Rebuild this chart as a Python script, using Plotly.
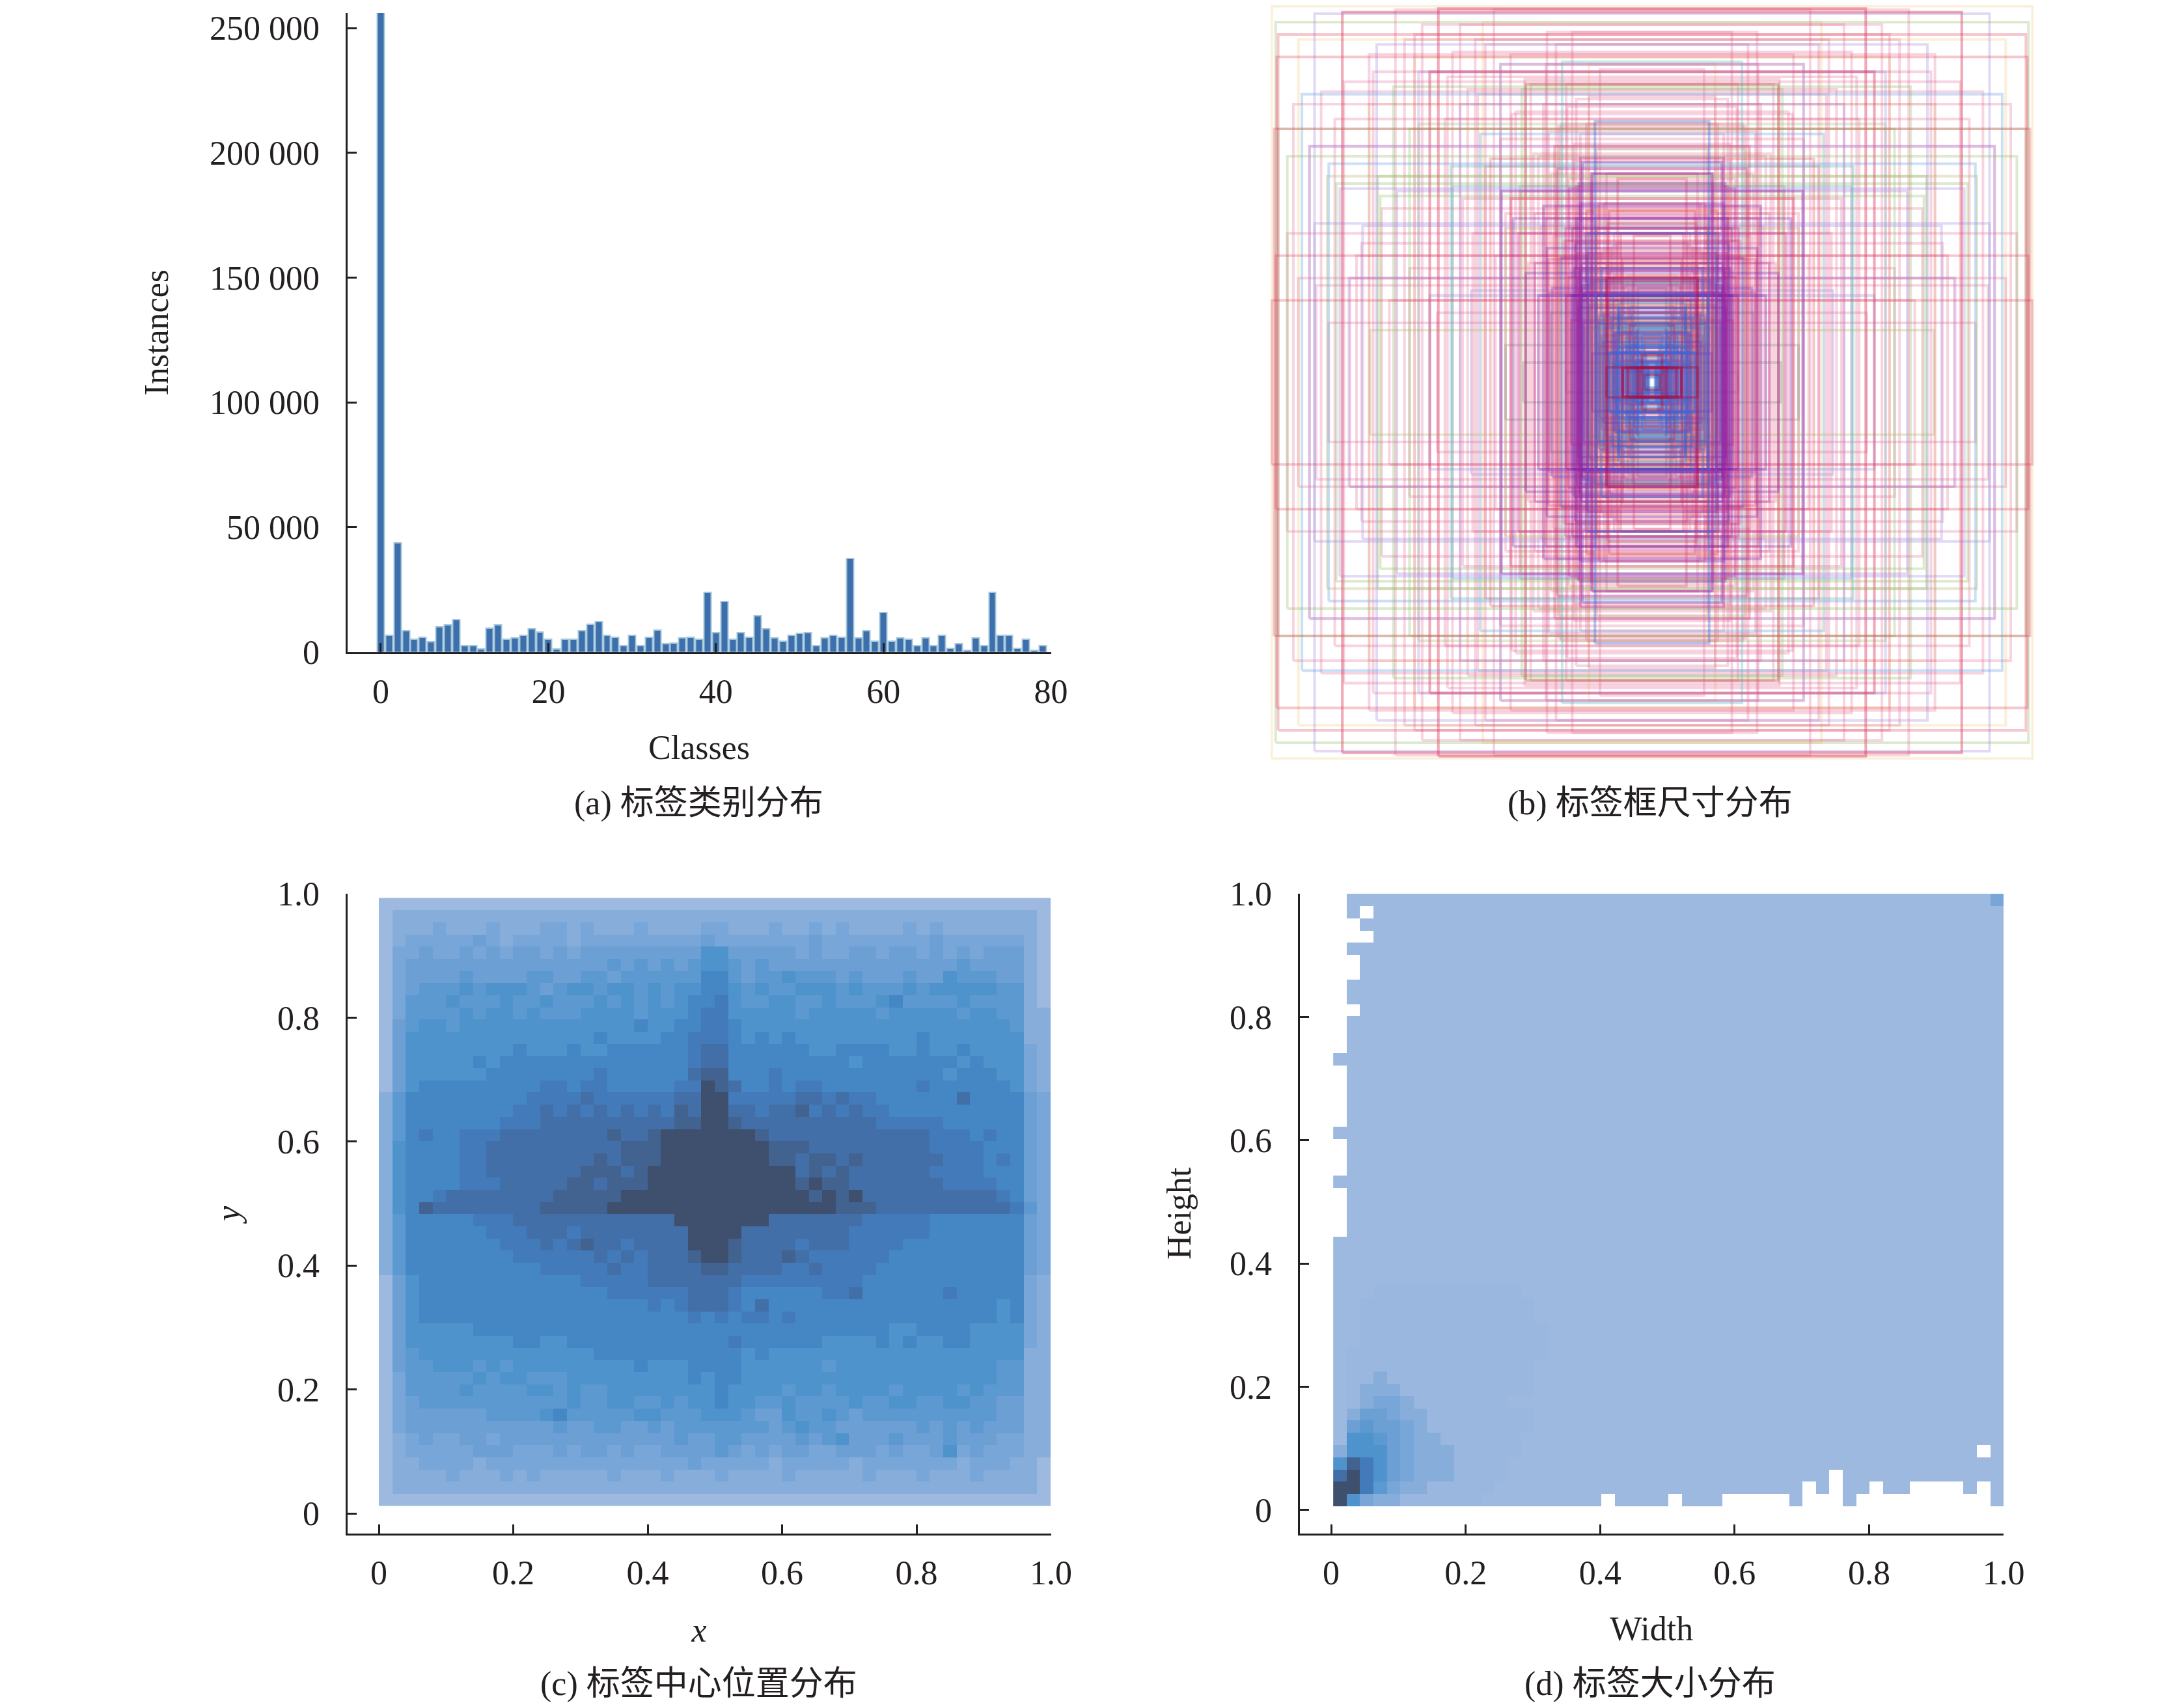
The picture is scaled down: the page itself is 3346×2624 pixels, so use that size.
import plotly.graph_objects as go

W = 3346
H = 2624

# (a) instances per class
class_ids = list(range(80))
class_counts = [258000, 6760, 43600, 8500, 5030, 5900, 4160, 10000, 10800, 12800,
                2400, 2400, 1200, 9500, 10700, 5000, 5700, 6700, 9200, 8000,
                5200, 1100, 5200, 5200, 8500, 11100, 12000, 6700, 5900, 2600,
                6700, 2600, 5900, 8700, 3300, 3500, 5700, 5900, 5000, 23900,
                7600, 20200, 5000, 7600, 5900, 14400, 9200, 5700, 4300, 6600,
                7500, 7600, 2600, 5700, 6700, 5900, 37500, 5700, 8500, 4200,
                15800, 4200, 5700, 5000, 2400, 5700, 2600, 6600, 1500, 3300,
                700, 5700, 2600, 23900, 6700, 6700, 1500, 5000, 700, 2400]
class_xticks = [0, 20, 40, 60, 80]
class_yticks = [0, 50000, 100000, 150000, 200000, 250000]
class_yticktext = ["0", "50 000", "100 000", "150 000", "200 000", "250 000"]

unit_ticks = [0, 0.2, 0.4, 0.6, 0.8, 1.0]
unit_ticktext = ["0", "0.2", "0.4", "0.6", "0.8", "1.0"]

# (b) half width / half height of the boxes, one pair of lists per colour
pink_w = [423, 313, 508, 613, 628, 552, 678, 598, 722, 278, 208, 158, 103, 350, 440, 395, 300, 252, 215, 180, 155, 140, 120, 95, 75, 60,
          470, 380, 330, 280, 240, 210, 190, 170, 150, 130, 110, 90, 205, 225, 165, 118, 88, 70, 262, 345, 405, 232, 196,
          135, 160, 245, 310, 128, 175, 355, 220, 146, 290, 190, 375, 260, 120, 200, 330, 155, 235, 300, 142, 185, 410, 270, 168, 125, 365,
          520, 585, 640, 700, 455, 490, 560, 610, 655, 710, 425, 535, 575, 480, 665]
pink_h = [752, 750, 750, 745, 530, 625, 475, 210, 300, 540, 705, 705, 630, 690, 625, 665, 640, 610, 560, 520, 480, 430, 400, 360, 300, 250,
          700, 720, 680, 660, 600, 640, 680, 600, 570, 520, 470, 420, 505, 455, 410, 350, 330, 280, 395, 580, 615, 340, 295,
          205, 225, 240, 255, 270, 285, 300, 315, 325, 340, 355, 370, 385, 405, 420, 435, 445, 460, 490, 500, 515, 530, 545, 555, 575, 590,
          165, 255, 120, 210, 720, 690, 660, 605, 585, 560, 140, 350, 280, 230, 195]
red_w = [743, 753, 745, 748, 740, 613, 440, 423, 193, 90, 58, 250, 320, 280, 150, 130, 110, 75, 48, 40, 100, 170, 210, 125, 70, 85, 115, 62, 145, 95, 160, 185, 52,
         59, 26, 59, 70, 40, 50, 30, 22, 65, 82, 34, 100, 75, 112, 92, 18, 44, 128, 166, 205,
         88, 105, 68, 36, 55, 80, 120, 140]
red_h = [655, 165, 255, 510, 700, 745, 625, 752, 475, 235, 245, 600, 450, 370, 395, 345, 310, 215, 185, 140, 265, 285, 330, 155, 120, 345, 205, 300, 230, 170, 125, 250, 90,
         103, 26, 100, 88, 60, 45, 80, 65, 140, 130, 120, 95, 165, 150, 115, 42, 152, 178, 212, 248,
         320, 360, 410, 295, 195, 275, 240, 190]
purple_w = [138, 298, 160, 208, 150, 140, 135, 145, 148, 198, 132, 155, 128, 152, 110, 225, 250, 180, 170, 75, 60, 35, 142, 146, 136, 154, 126, 158, 120, 105, 88, 66, 44, 215, 275,
            144, 141, 147, 143, 139, 50, 28, 96, 78, 118]
purple_h = [443, 385, 175, 270, 330, 240, 180, 400, 210, 190, 300, 175, 260, 280, 175, 175, 220, 250, 175, 100, 60, 90, 360, 150, 120, 230, 200, 310, 420, 135, 165, 145, 115, 355, 330,
            180, 205, 165, 225, 195, 70, 85, 82, 128, 58]
magenta_w = [172, 128, 96, 72, 148, 118, 204, 232, 142, 56, 30, 84, 164, 188, 265, 112, 38, 62, 16, 104, 24, 46, 8]
magenta_h = [310, 182, 140, 96, 260, 420, 180, 240, 452, 62, 44, 225, 390, 430, 300, 335, 55, 42, 78, 72, 16, 22, 26]
blue_w = [113, 110, 48, 40, 35, 60, 90, 78, 100, 70, 30, 20, 52, 84, 126, 38, 66,
          20, 25, 18, 69, 72, 66, 105, 95, 85, 58, 44, 33, 28, 14, 12, 10, 9, 54, 77, 6, 16]
blue_h = [525, 175, 95, 75, 40, 140, 110, 180, 230, 70, 105, 20, 130, 60, 300, 120, 160,
          95, 70, 50, 60, 100, 150, 118, 130, 60, 75, 85, 40, 110, 35, 60, 18, 42, 22, 36, 28, 10]
green_w = [745, 740, 722, 512, 543, 538, 258, 78, 95, 70, 100, 120, 60, 85, 55, 45, 130, 625, 480, 40, 75, 112,
           110, 45, 105, 60, 80, 92, 35, 16, 68, 122, 24, 102, 12, 30, 9]
green_h = [725, 510, 455, 595, 415, 375, 590, 100, 140, 170, 90, 130, 80, 200, 55, 115, 110, 400, 510, 60, 45, 240,
           118, 90, 125, 100, 115, 70, 75, 30, 32, 158, 52, 205, 20, 14, 12]
teal_w = [178, 398, 395, 88, 60, 25, 110, 135, 70, 50, 36, 69, 74, 14, 7]
teal_h = [645, 435, 395, 150, 170, 60, 80, 200, 105, 115, 80, 150, 34, 88, 40]
lblue_w = [693, 640, 340]
lblue_h = [580, 440, 500]
olive_w = [643, 558, 250, 110, 290, 462, 185]
olive_h = [415, 105, 600, 320, 310, 520, 470]
yellow_w = [753, 700, 560, 150, 125, 48, 32, 335, 470]
yellow_h = [757, 690, 560, 345, 640, 215, 160, 725, 655]
lavender_w = [668, 668, 462, 358, 678, 300, 440, 573, 618, 600, 505, 380, 545]
lavender_h = [742, 320, 625, 185, 475, 640, 175, 315, 390, 210, 385, 560, 680]
gray_w = [290, 255, 200, 170, 38, 42, 28]
gray_h = [75, 40, 140, 20, 205, 175, 190]
dark_w = [58, 25, 48, 90, 30, 20, 15, 90, 58]
dark_h = [30, 30, 30, 30, 30, 55, 15, 210, 28]

box_groups = [
    ("rgba(236,200,120,0.28)", yellow_w, yellow_h),
    ("rgba(225,85,130,0.25)", pink_w, pink_h),
    ("rgba(140,190,95,0.30)", green_w, green_h),
    ("rgba(175,180,105,0.30)", olive_w, olive_h),
    ("rgba(110,165,225,0.35)", lblue_w, lblue_h),
    ("rgba(90,190,190,0.35)", teal_w, teal_h),
    ("rgba(165,140,220,0.32)", lavender_w, lavender_h),
    ("rgba(150,150,150,0.35)", gray_w, gray_h),
    ("rgba(222,55,80,0.28)", red_w, red_h),
    ("rgba(120,35,175,0.32)", purple_w, purple_h),
    ("rgba(190,45,150,0.32)", magenta_w, magenta_h),
    ("rgba(55,105,215,0.38)", blue_w, blue_h),
    ("rgba(165,15,75,0.42)", dark_w, dark_h),
]

# shade codes, top row first; "." is an empty cell
SHADES = "0-123456789a"
SHADE_COLOURS = ["#9db9e0", "#9ab7df", "#87aedb", "#79a6d8", "#6ca0d5", "#5d99d1",
                 "#4f93cc", "#4586c5", "#437bba", "#436fa8", "#426290", "#3f4f6e"]

center_rows = [
    "00000 00000 00000 00000 00000 00000 00000 00000 00000 00000",
    "01111 11111 11111 11111 11111 11111 11111 11111 11111 11110",
    "01112 11121 11221 21112 11112 21112 11212 11112 12111 11110",
    "01222 22321 22221 22222 22223 22222 22322 22222 23222 22210",
    "02232 23232 33232 33333 33335 53333 32322 33233 23232 33310",
    "02333 33333 33333 33434 34345 54343 33333 33333 33343 33310",
    "02333 34333 34433 44344 44446 64344 54443 43334 33544 43310",
    "02344 45455 54345 54554 54556 65454 45554 54445 45555 54410",
    "02444 54445 44544 45454 54566 75445 54454 44564 44454 44410",
    "02444 45455 45444 55554 55567 75555 54555 55455 55545 54411",
    "03455 45555 55555 55556 55667 76555 55555 55555 55555 55411",
    "03555 55555 55555 56555 56677 76565 65555 55555 65555 55511",
    "03555 55555 65556 55666 66678 86666 66556 66655 65565 55521",
    "03555 55656 66666 66666 66678 86666 66666 56666 66656 55521",
    "03555 55566 66666 67666 66689 96667 66666 66666 66566 65521",
    "03566 66666 66776 77666 6677a 98667 67766 66666 76666 66521",
    "14666 66666 67777 87777 7788a a7777 78878 77666 66686 66632",
    "14666 66666 77878 78787 8798a a8878 89787 87766 66666 66632",
    "14666 66667 77888 88888 8899a a9888 88888 88777 77666 66632",
    "14676 67778 88888 88988 9aaaa aaa98 88888 88888 87776 76632",
    "15666 67788 88888 88899 9aaaa aaaa9 99888 88888 87777 66632",
    "15666 67788 88888 89899 9aaaa aaaa9 98998 98888 88777 67632",
    "15666 67788 88888 99989 aaaaa aaaaa a8989 88888 87777 66632",
    "15666 67778 88889 98999 aaaaa aaaaa a9a99 88888 88777 76632",
    "15667 88888 88899 999aa aaaaa aaaaa aa9a9 a8888 88888 87632",
    "15698 88888 88999 99aaa aaaaa aaaaa aaaa9 99888 88888 88742",
    "14666 66777 88888 88888 88aaa aaaa8 88888 87777 76666 66632",
    "14666 66677 78887 88888 888aa aa888 88888 77777 76666 66632",
    "14666 66667 77878 98878 888aa a9888 87888 77776 66666 66632",
    "14666 66666 77777 78787 8889a a9888 98777 77766 66666 66632",
    "14666 66666 66777 77877 88889 98888 77877 77666 66666 66632",
    "03566 66666 66666 77777 88888 88777 77777 76666 66666 66621",
    "03566 66666 66666 66777 77788 87666 66677 86666 66766 66621",
    "03566 66666 66666 66666 76788 87686 66666 66666 66666 65621",
    "03566 66666 66666 66666 66676 76776 76666 66666 66666 65621",
    "03555 55666 66666 66666 66666 66666 66666 66655 66665 55521",
    "03555 55555 66556 66666 66666 67666 66655 55656 55665 55521",
    "03455 55555 55555 56666 66666 66565 55555 55555 55555 55511",
    "03445 55454 55555 55556 55566 66555 55545 55555 55555 54411",
    "02444 44545 54445 55555 55565 66555 55555 55555 55555 54411",
    "02444 45444 45545 44555 55555 65555 45545 55545 55545 44411",
    "02344 44444 44445 44554 45455 65544 54444 54455 44554 43311",
    "02333 33344 44564 44445 54445 55433 54454 34444 44444 43311",
    "02333 33333 33343 34433 43444 44443 45443 33333 43434 33311",
    "01232 23323 33333 33333 33433 44333 34345 33343 33433 32211",
    "01222 22333 22232 33232 23333 43232 33223 33232 23523 22211",
    "01122 22122 22222 22222 22232 22221 22222 12222 22212 22110",
    "01111 21112 12111 11211 12111 21111 21111 12111 21112 11110",
    "01111 11111 11111 11111 11111 11111 11111 11111 11111 11110",
    "00000 00000 00000 00000 00000 00000 00000 00000 00000 00000",
]

size_rows = [
    ".0000 00000 00000 00000 00000 00000 00000 00000 00000 00002",
    ".0.00 00000 00000 00000 00000 00000 00000 00000 00000 00000",
    "..000 00000 00000 00000 00000 00000 00000 00000 00000 00000",
    "...00 00000 00000 00000 00000 00000 00000 00000 00000 00000",
    ".0000 00000 00000 00000 00000 00000 00000 00000 00000 00000",
    "..000 00000 00000 00000 00000 00000 00000 00000 00000 00000",
    "..000 00000 00000 00000 00000 00000 00000 00000 00000 00000",
    ".0000 00000 00000 00000 00000 00000 00000 00000 00000 00000",
    ".0000 00000 00000 00000 00000 00000 00000 00000 00000 00000",
    "..000 00000 00000 00000 00000 00000 00000 00000 00000 00000",
    ".0000 00000 00000 00000 00000 00000 00000 00000 00000 00000",
    ".0000 00000 00000 00000 00000 00000 00000 00000 00000 00000",
    ".0000 00000 00000 00000 00000 00000 00000 00000 00000 00000",
    "00000 00000 00000 00000 00000 00000 00000 00000 00000 00000",
    ".0000 00000 00000 00000 00000 00000 00000 00000 00000 00000",
    ".0000 00000 00000 00000 00000 00000 00000 00000 00000 00000",
    ".0000 00000 00000 00000 00000 00000 00000 00000 00000 00000",
    ".0000 00000 00000 00000 00000 00000 00000 00000 00000 00000",
    ".0000 00000 00000 00000 00000 00000 00000 00000 00000 00000",
    "00000 00000 00000 00000 00000 00000 00000 00000 00000 00000",
    ".0000 00000 00000 00000 00000 00000 00000 00000 00000 00000",
    ".0000 00000 00000 00000 00000 00000 00000 00000 00000 00000",
    ".0000 00000 00000 00000 00000 00000 00000 00000 00000 00000",
    "00000 00000 00000 00000 00000 00000 00000 00000 00000 00000",
    ".0000 00000 00000 00000 00000 00000 00000 00000 00000 00000",
    ".0000 00000 00000 00000 00000 00000 00000 00000 00000 00000",
    ".0000 00000 00000 00000 00000 00000 00000 00000 00000 00000",
    ".0000 00000 00000 00000 00000 00000 00000 00000 00000 00000",
    "00000 00000 00000 00000 00000 00000 00000 00000 00000 00000",
    "00000 00000 00000 00000 00000 00000 00000 00000 00000 00000",
    "00000 00000 00000 00000 00000 00000 00000 00000 00000 00000",
    "00000 00000 00000 00000 00000 00000 00000 00000 00000 00000",
    "000-- ----- ----0 00000 00000 00000 00000 00000 00000 00000",
    "00--- ----- ----- 00000 00000 00000 00000 00000 00000 00000",
    "00--- ----- ----- 00000 00000 00000 00000 00000 00000 00000",
    "00--- ----- ----- -0000 00000 00000 00000 00000 00000 00000",
    "00--- ----- ----- -0000 00000 00000 00000 00000 00000 00000",
    "0---- ----- ----- -0000 00000 00000 00000 00000 00000 00000",
    "0---- ----- ----- 00000 00000 00000 00000 00000 00000 00000",
    "0--1- ----- ----- 00000 00000 00000 00000 00000 00000 00000",
    "0-111 ----- ----- 00000 00000 00000 00000 00000 00000 00000",
    "0-122 1---- ---00 00000 00000 00000 00000 00000 00000 00000",
    "01332 11--- ----- 00000 00000 00000 00000 00000 00000 00000",
    "03433 21--- ----- 00000 00000 00000 00000 00000 00000 00000",
    "05543 211-- ----0 00000 00000 00000 00000 00000 00000 00000",
    "15553 2111- ----0 00000 00000 00000 00000 00000 00000 000.0",
    "59753 2111- ---00 00000 00000 00000 00000 00000 00000 00000",
    "8a753 2111- ---00 00000 00000 00000 00000 00.00 00000 00000",
    "aa742 11--- --000 00000 00000 00000 00000 .0.00 .00.. ..0.0",
    "a5211 ----- -0000 00000 .0000 .000. ....0 ...0. ..... ....0",
]


def parse_rows(rows):
    z = []
    for row in rows[::-1]:
        cells = row.replace(" ", "")
        assert len(cells) == 50, row
        z.append([None if c == "." else SHADES.index(c) for c in cells])
    return z


def box_trace(w, h, colour):
    return go.Scatter(x=[-w, w, w, -w, -w], y=[-h, -h, h, h, -h], mode="lines",
                      line=dict(color=colour, width=4), xaxis="x2", yaxis="y2",
                      hoverinfo="skip", showlegend=False)


def dom_x(a, b):
    return [a / W, b / W]


def dom_y(top, bottom):
    return [1 - bottom / H, 1 - top / H]


def axis(domain, rng, tickvals, ticktext, title, standoff, labeloff, anchor):
    return dict(domain=domain, range=rng, tickmode="array", tickvals=tickvals,
                ticktext=ticktext, ticks="inside", ticklen=14, tickwidth=3,
                tickcolor=INK, showline=True, linewidth=3, linecolor=INK,
                showgrid=False, zeroline=False, anchor=anchor,
                ticklabelstandoff=labeloff,
                title=dict(text=title, standoff=standoff,
                           font=dict(size=FONT_SIZE, color=INK)))


INK = "#231f20"
FONT_SIZE = 52
FONT = "Liberation Serif, Noto Sans CJK SC"

fig = go.Figure()

fig.add_trace(go.Bar(x=class_ids, y=class_counts, width=0.85, xaxis="x", yaxis="y",
                     marker=dict(color="#3c6fab", line=dict(color="#a3c6da", width=2)),
                     showlegend=False))

for colour, widths, heights in box_groups:
    for w, h in zip(widths, heights):
        fig.add_trace(box_trace(w, h, colour))

fig.add_trace(go.Heatmap(z=parse_rows(center_rows), x0=0.01, dx=0.02, y0=0.0214, dy=0.01963,
                         colorscale=[[i / 11, c] for i, c in enumerate(SHADE_COLOURS)],
                         zmin=0, zmax=11, showscale=False, xaxis="x3", yaxis="y3"))
fig.add_trace(go.Heatmap(z=parse_rows(size_rows), x0=0.013, dx=0.01994, y0=0.0163, dy=0.01987,
                         colorscale=[[i / 11, c] for i, c in enumerate(SHADE_COLOURS)],
                         zmin=0, zmax=11, showscale=False, xaxis="x4", yaxis="y4"))

fig.update_layout(
    width=W, height=H, margin=dict(l=0, r=0, t=0, b=0, autoexpand=False), autosize=False,
    paper_bgcolor="white", plot_bgcolor="white", bargap=0,
    font=dict(family=FONT, size=FONT_SIZE, color=INK),
    xaxis=axis(dom_x(533.5, 1614.6), [-4, 80], class_xticks, [str(v) for v in class_xticks], "Classes", 40, 13, "y"),
    yaxis=axis(dom_y(20, 1001.5), [0, 256000], class_yticks, class_yticktext, "Instances", 47, 29, "x"),
    xaxis2=dict(domain=dom_x(1952, 3124), range=[-755, 755], visible=False, anchor="y2"),
    yaxis2=dict(domain=dom_y(8, 1167), range=[-759, 759], visible=False, anchor="x2"),
    xaxis3=axis(dom_x(533.5, 1614.5), [-0.047, 1], unit_ticks, unit_ticktext, "<i>x</i>", 42, 13, "y3"),
    yaxis3=axis(dom_y(1373, 2355.5), [-0.032, 1], unit_ticks, unit_ticktext, "<i>y</i>", 41, 29, "x3"),
    xaxis4=axis(dom_x(1996.5, 3078), [-0.047, 1], unit_ticks, unit_ticktext, "Width", 40, 13, "y4"),
    yaxis4=axis(dom_y(1373, 2355.5), [-0.0375, 1], unit_ticks, unit_ticktext, "Height", 43, 29, "x4"),
)

captions = ["(a) 标签类别分布", "(b) 标签框尺寸分布", "(c) 标签中心位置分布", "(d) 标签大小分布"]
caption_x = [1073, 2535, 1073, 2535]
caption_y = [1234, 1234, 2587, 2587]
for text, cx, cy in zip(captions, caption_x, caption_y):
    fig.add_annotation(text=text, x=cx / W, y=1 - cy / H, xref="paper", yref="paper",
                       showarrow=False, xanchor="center", yanchor="middle",
                       font=dict(size=FONT_SIZE, color=INK, family=FONT))

fig.write_html("out.html", post_script="document.body.style.margin='0';",
               config={"displayModeBar": False})
